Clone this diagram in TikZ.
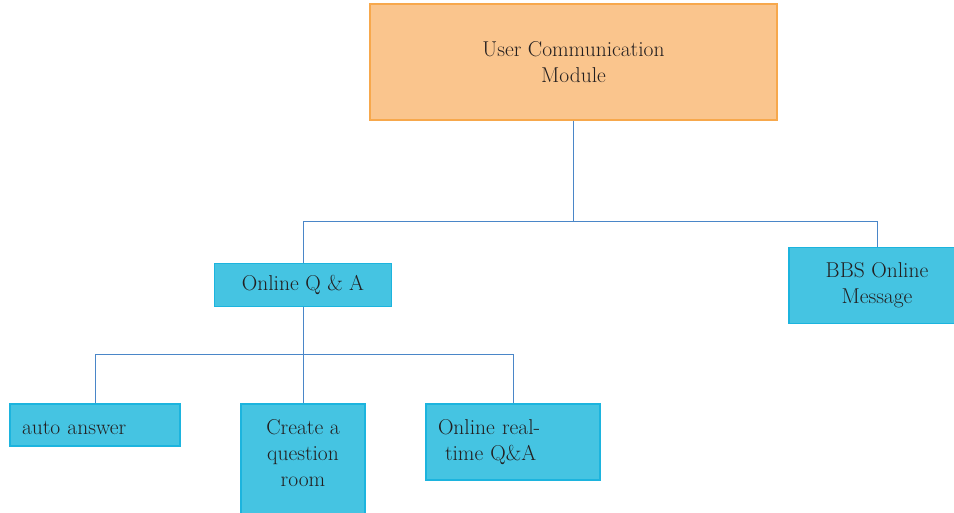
\documentclass[tikz,border=0pt]{standalone}
\usetikzlibrary{positioning}
\definecolor{modorange}{HTML}{FAC58D}
\definecolor{modorangeline}{HTML}{F7A84C}
\definecolor{subblue}{HTML}{45C4E2}
\definecolor{subblueline}{HTML}{1CB4DE}
\definecolor{linkblue}{HTML}{4A86C8}
\definecolor{txtgray}{HTML}{231F20}
\begin{document}
\begin{tikzpicture}[x=1pt,y=-1pt,
    every node/.style={font=\fontsize{21.5}{26}\selectfont,text=txtgray,inner sep=0pt},
    mainbox/.style={draw=modorangeline,fill=modorange,line width=1.5pt,align=center},
    subbox/.style={draw=subblueline,fill=subblue,line width=1.5pt,align=center},
    leafbox/.style={subbox,align=left,inner xsep=12pt},
    link/.style={draw=linkblue,line width=0.9pt}]
  \useasboundingbox (0,0) rectangle (954,513);
  \node[mainbox,minimum width=407,minimum height=116] (ucm) at (573.5,62)
    {User Communication\\Module};
  \node[subbox,minimum width=177,minimum height=43] (qa) at (303,285)
    {Online Q \& A};
  \node[subbox,minimum width=176,minimum height=76] (bbs) at (877,285.5)
    {BBS Online\\Message};
  \node[leafbox,text width=146,minimum height=42] (auto) at (95,425)
    {\raisebox{0pt}[\dimexpr\height+6pt\relax]{auto answer}};
  \node[subbox,minimum width=124,minimum height=110] (room) at (303,459)
    {\raisebox{0pt}[\height][\dimexpr\depth+7pt\relax]{\begin{tabular}{@{}c@{}}Create a\\question\\room\end{tabular}}};
  \node[leafbox,text width=150,minimum height=76] (live) at (513,442)
    {Online real-\\\hspace*{7pt}time Q\&A};
  % connectors
  \draw[link] (ucm.south) -- ++(0,101) coordinate (fork1);
  \draw[link] (qa.north) |- (fork1) -| (bbs.north);
  \draw[link] (qa.south) -- ++(0,47) coordinate (fork2);
  \draw[link] (auto.north) |- (fork2) -| (live.north);
  \draw[link] (fork2) -- (room.north);
\end{tikzpicture}
\end{document}
